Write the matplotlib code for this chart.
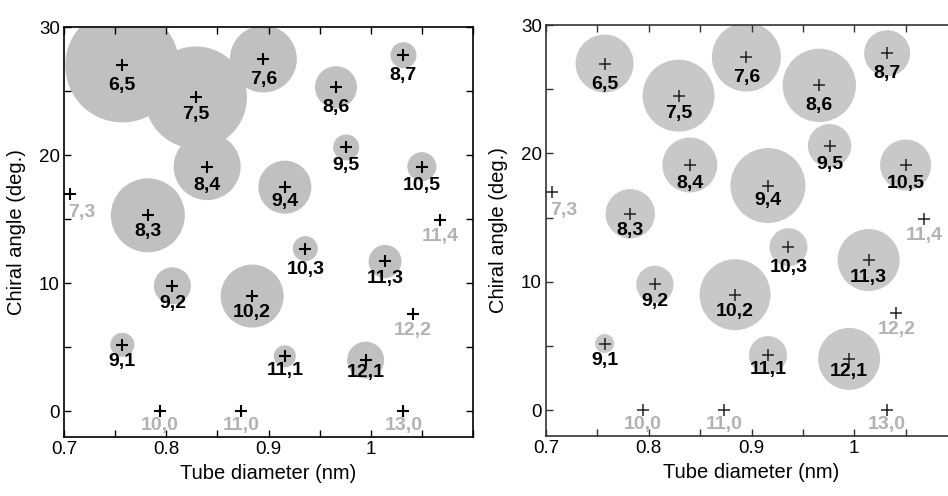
import numpy as np
import matplotlib
matplotlib.use("Agg")
import matplotlib.pyplot as plt
from matplotlib.ticker import MultipleLocator, FuncFormatter

plt.rcParams['font.family'] = ['Liberation Sans', 'DejaVu Sans']

# (n,m) chirality labels
labels = ['6,5', '7,5', '7,6', '8,6', '8,7', '9,5', '8,4', '10,5', '9,4',
          '7,3', '8,3', '11,4', '10,3', '11,3', '9,2', '10,2', '12,2',
          '9,1', '11,1', '12,1', '10,0', '11,0', '13,0']

# tube diameter (nm) and chiral angle (deg.)
diam = [0.757, 0.829, 0.895, 0.966, 1.032, 0.976, 0.840, 1.050, 0.916,
        0.706, 0.782, 1.068, 0.936, 1.014, 0.806, 0.884, 1.041,
        0.757, 0.916, 0.995, 0.794, 0.873, 1.032]
angle = [27.0, 24.5, 27.5, 25.3, 27.8, 20.6, 19.1, 19.1, 17.5,
         17.0, 15.3, 14.9, 12.7, 11.7, 9.8, 9.0, 7.6,
         5.2, 4.3, 4.0, 0.0, 0.0, 0.0]

# peak amplitudes (a.u.), left and right panels; 0 = not observed
amp_left = [5.7, 5.1, 3.35, 2.1, 1.3, 1.3, 3.35, 1.45, 2.65,
            0, 3.7, 0, 1.25, 1.65, 1.85, 3.15, 0,
            1.2, 1.1, 1.85, 0, 0, 0]
amp_right = [2.9, 3.6, 3.45, 3.67, 2.3, 2.17, 2.75, 2.55, 3.75,
             0, 2.47, 0, 1.9, 3.1, 1.87, 3.55, 0,
             0.95, 1.9, 3.1, 0, 0, 0]

DPI = 100
PX_PER_AMP = 10.0

# label placement below the cross (px); default gap 9
label_gap = {'6,5': 12, '7,6': 12, '8,6': 12, '8,7': 12, '10,3': 12,
             '9,5': 10, '8,4': 10, '10,5': 10, '7,3': 10,
             '8,3': 8, '10,2': 8, '12,2': 8, '9,1': 8, '11,4': 8,
             '9,4': 6, '11,1': 6, '10,0': 6, '11,0': 6, '13,0': 6,
             '12,1': 4}
label_dx = {'7,3': 12}


def draw_panel(ax, amp, circ_color, cross_color, cross_lw, spine_color):
    amp = np.asarray(amp)
    r_px = amp * PX_PER_AMP
    s = (2 * r_px * 72.0 / DPI) ** 2
    seen = amp > 0
    ax.scatter(np.asarray(diam)[seen], np.asarray(angle)[seen], s=s[seen],
               color=circ_color, edgecolors='none', zorder=1)
    ax.plot(diam, angle, '+', color=cross_color, ms=8, mew=cross_lw,
            zorder=2, clip_on=False)
    for lab, x, y, a in zip(labels, diam, angle, amp):
        col = 'black' if a > 0 else '#b2b2b2'
        gap = label_gap.get(lab, 9) * 72.0 / DPI
        dx = label_dx.get(lab, 0) * 72.0 / DPI
        ax.annotate(lab, (x, y), xytext=(dx, -gap), textcoords='offset points',
                    ha='center', va='top', fontsize=14, fontweight='bold',
                    color=col, zorder=3, annotation_clip=False)
    ax.set_xlim(0.7, 1.1)
    ax.set_ylim(-2, 30)
    ax.xaxis.set_major_locator(MultipleLocator(0.1))
    ax.xaxis.set_minor_locator(MultipleLocator(0.05))
    ax.yaxis.set_major_locator(MultipleLocator(10))
    ax.yaxis.set_minor_locator(MultipleLocator(5))
    ax.xaxis.set_major_formatter(FuncFormatter(
        lambda v, p: '' if v > 1.05 else '%g' % round(v, 2)))
    ax.tick_params(which='both', direction='in', top=True, right=True,
                   length=5, width=1, color=spine_color, labelsize=13.5,
                   pad=3)
    for sp in ax.spines.values():
        sp.set_color(spine_color)
        sp.set_linewidth(1.2)
    ax.set_xlabel('Tube diameter (nm)', fontsize=14.5, labelpad=4)
    ax.set_ylabel('Chiral angle (deg.)', fontsize=14.5, labelpad=9)


fig = plt.figure(figsize=(9.48, 4.96), dpi=DPI)
ax1 = fig.add_axes([64 / 948, 1 - 437 / 496, 409 / 948, 410 / 496])
ax2 = fig.add_axes([546 / 948, 1 - 436 / 496, 411 / 948, 411 / 496])

draw_panel(ax1, amp_left, '#c0c0c0', 'black', 1.5, 'black')
draw_panel(ax2, amp_right, '#c8c8c8', '#222222', 1.1, '#333333')

fig.savefig('out.png', dpi=DPI)
